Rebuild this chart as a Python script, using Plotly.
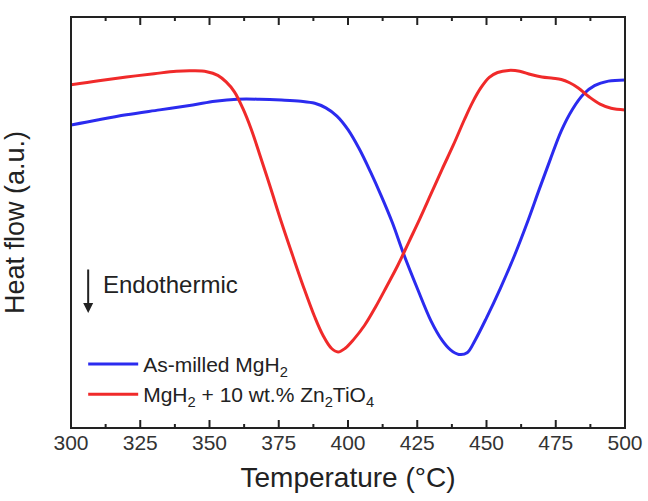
import plotly.graph_objects as go

# DSC traces: temperature (°C) vs heat flow (arbitrary units)
temp_milled = [300, 310, 320, 332, 344, 352, 360, 368, 376, 383, 388, 392, 396, 400,
               404, 408, 412, 416, 420, 425, 430, 434, 437, 440, 443, 446, 450, 455,
               460, 465, 469, 473, 477, 481, 485, 489, 494, 500]
flow_milled = [73.7, 75.0, 76.2, 77.4, 78.6, 79.5, 80.0, 80.0, 79.8, 79.5, 79.0, 77.9,
               75.9, 72.6, 68.0, 62.5, 56.5, 50.0, 42.5, 34.0, 26.0, 21.3, 19.0, 17.9,
               18.3, 21.5, 26.8, 34.0, 41.8, 50.5, 58.0, 65.3, 72.3, 77.5, 81.2, 83.3,
               84.4, 84.7]

temp_doped = [300, 310, 320, 330, 338, 344, 349, 353, 356, 359, 362, 365, 368, 372,
              376, 380, 384, 388, 391, 394, 396.4, 399, 402, 406, 410, 414, 418, 422,
              426, 430, 434, 438, 442, 445, 448, 451, 454, 458, 462, 466, 470, 474,
              477, 480, 483, 487, 491, 495, 500]
flow_doped = [83.5, 84.5, 85.4, 86.2, 86.8, 86.9, 86.7, 85.8, 84.2, 81.8, 77.8, 72.8,
              66.8, 58.5, 50.0, 42.0, 34.2, 27.0, 22.5, 19.4, 18.5, 19.4, 21.5, 25.0,
              29.5, 34.5, 39.6, 45.3, 51.0, 57.0, 63.0, 68.8, 75.0, 79.3, 82.8, 85.3,
              86.5, 87.0, 86.8, 86.0, 85.4, 85.1, 84.8, 84.0, 82.8, 80.6, 78.8, 77.8,
              77.4]

x_major = [300, 325, 350, 375, 400, 425, 450, 475, 500]
x_minor = [312.5, 337.5, 362.5, 387.5, 412.5, 437.5, 462.5, 487.5]

X_RANGE = [300, 500]
Y_RANGE = [0, 100]
FONT = "Arial, Liberation Sans, sans-serif"
INK = "#222"

fig = go.Figure()
fig.add_trace(go.Scatter(
    x=temp_milled, y=flow_milled, mode="lines",
    line=dict(color="#2b2bef", width=3, shape="spline", smoothing=1),
    name="As-milled MgH<sub>2</sub>", legendgroup="a",
))
fig.add_trace(go.Scatter(
    x=temp_doped, y=flow_doped, mode="lines",
    line=dict(color="#f02a2a", width=3, shape="spline", smoothing=1),
    name="MgH<sub>2</sub> + 10 wt.% Zn<sub>2</sub>TiO<sub>4</sub>", legendgroup="b",
))

# inward tick marks on the bottom and top edges, placed on the x scale
for ticks_x, length in ((x_major, 8), (x_minor, 4)):
    for tx in ticks_x:
        for anchor, (y0, y1) in ((0, (0, length)), (1, (-length, 0))):
            fig.add_shape(
                type="line", xref="x", yref="paper",
                x0=tx, x1=tx, ysizemode="pixel", yanchor=anchor, y0=y0, y1=y1,
                line=dict(color=INK, width=2), layer="above",
            )

# plot frame
fig.add_shape(type="rect", xref="paper", yref="paper", x0=0, x1=1, y0=0, y1=1,
              line=dict(color=INK, width=2), fillcolor="rgba(0,0,0,0)", layer="above")

# "Endothermic" direction arrow and label
fig.add_annotation(
    x=0.031, y=0.28, xref="paper", yref="paper",
    ax=0, ay=-45, axref="pixel", ayref="pixel",
    text="", showarrow=True, arrowhead=2, arrowsize=1.0,
    arrowwidth=2, arrowcolor=INK,
)
fig.add_annotation(
    x=0.054, y=0.348, xref="paper", yref="paper",
    text="Endothermic", showarrow=False, xanchor="left", yanchor="middle",
    font=dict(family=FONT, size=24, color=INK),
)

fig.update_layout(
    template="none",
    width=648, height=501,
    margin=dict(l=71, r=23, t=17, b=73),
    paper_bgcolor="white", plot_bgcolor="white",
    font=dict(family=FONT, color=INK),
    showlegend=True,
    legend=dict(
        x=0.022, y=0.205, xanchor="left", yanchor="top",
        bgcolor="rgba(0,0,0,0)", borderwidth=0,
        font=dict(family=FONT, size=21, color=INK),
        tracegroupgap=0, itemwidth=50, traceorder="grouped",
    ),
    xaxis=dict(
        range=X_RANGE, automargin=False,
        tickmode="array", tickvals=x_major, ticktext=[str(v) for v in x_major],
        ticks="", showline=False, showgrid=False, zeroline=False,
        tickfont=dict(family=FONT, size=21, color="#333"),
        title=dict(text="Temperature (°C)", font=dict(family=FONT, size=28, color=INK),
                   standoff=14),
    ),
    yaxis=dict(
        range=Y_RANGE, showticklabels=False, ticks="",
        showline=False, showgrid=False, zeroline=False, automargin=False,
        title=dict(text="Heat flow (a.u.)", font=dict(family=FONT, size=27, color=INK),
                   standoff=40),
    ),
)

fig.write_html("out.html")
